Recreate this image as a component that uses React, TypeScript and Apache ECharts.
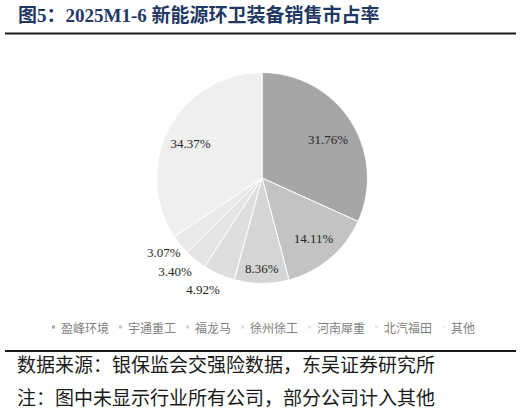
import React, { useEffect, useRef } from "react";
import * as echarts from "echarts";

const names = ["盈峰环境", "宇通重工", "福龙马", "徐州徐工", "河南犀重", "北汽福田", "其他"];
const values = [31.76, 14.11, 8.36, 4.92, 3.4, 3.07, 34.37];
const colors = ["#a6a6a6", "#c3c3c3", "#d5d5d5", "#dedede", "#e4e4e4", "#e9e9e9", "#efefef"];
const innerLabelIdx = [0, 1, 2, 6];
const outerLabelIdx = [3, 4, 5];

const titleText = "图5：2025M1-6 新能源环卫装备销售市占率";
const sourceText = "数据来源：银保监会交强险数据，东吴证券研究所";
const noteText = "注：图中未显示行业所有公司，部分公司计入其他";

const CX = 262;
const CY = 178;
const R = 105.5;

const labelFont = "Liberation Serif, Times New Roman, serif";
const cjkSerif = "Liberation Serif, Noto Sans CJK SC, sans-serif";

const labelOffsets: Record<number, number[]> = {
  0: [-1, 5],
  2: [0, 11],
  3: [-7, -4],
  4: [-7, -5],
  5: [0, -6],
  6: [-1, 3],
};

export default function App() {
  const ref = useRef<HTMLDivElement>(null);
  useEffect(() => {
    if (!ref.current) return;
    const chart = echarts.init(ref.current, null, { renderer: "svg" });
    const fmt = (p: any) => Number(p.value).toFixed(2) + "%";
    const baseData = names.map((n, i) => ({
      name: n,
      value: values[i],
      itemStyle: { color: colors[i] },
    }));
    const overlayData = (idx: number[]) =>
      names.map((n, i) => ({
        name: n,
        value: values[i],
        itemStyle: { color: "transparent", borderWidth: 0 },
        label: { show: idx.includes(i), ...(labelOffsets[i] ? { offset: labelOffsets[i] } : {}) },
      }));
    const labelStyle = {
      position: "inside",
      formatter: fmt,
      color: "#262626",
      fontSize: 13,
      fontFamily: labelFont,
    };
    chart.setOption({
      animation: false,
      legend: {
        top: 316,
        left: "center",
        icon: "rect",
        itemWidth: 5,
        itemHeight: 5,
        itemGap: 8,
        selectedMode: false,
        data: names,
        textStyle: { color: "#7f7f7f", fontSize: 12, fontFamily: "Noto Sans CJK SC" },
      },
      series: [
        {
          type: "pie",
          center: [CX, CY],
          radius: [0, R],
          startAngle: 90,
          clockwise: true,
          silent: true,
          label: { show: false },
          labelLine: { show: false },
          itemStyle: { borderColor: "#ffffff", borderWidth: 1 },
          data: baseData,
        },
        {
          type: "pie",
          center: [CX, CY],
          radius: [48, R],
          startAngle: 90,
          clockwise: true,
          silent: true,
          avoidLabelOverlap: false,
          labelLine: { show: false },
          label: labelStyle,
          data: overlayData(innerLabelIdx),
        },
        {
          type: "pie",
          center: [CX, CY],
          radius: [R - 3, R + 40],
          startAngle: 90,
          clockwise: true,
          silent: true,
          avoidLabelOverlap: false,
          labelLine: { show: false },
          label: labelStyle,
          data: overlayData(outerLabelIdx),
        },
      ],
      graphic: [
        {
          type: "text",
          x: 18,
          y: 15,
          style: {
            text: titleText,
            fill: "#1f3864",
            font: "bold 19px " + cjkSerif,
            align: "left",
            verticalAlign: "middle",
            textAlign: "left",
            textVerticalAlign: "middle",
          },
        },
        {
          type: "line",
          shape: { x1: 5, y1: 33.5, x2: 516, y2: 33.5 },
          style: { stroke: "#1a1a1a", lineWidth: 2 },
        },
        {
          type: "line",
          shape: { x1: 5, y1: 351, x2: 516, y2: 351 },
          style: { stroke: "#1a1a1a", lineWidth: 2 },
        },
        {
          type: "text",
          x: 17,
          y: 365,
          style: {
            text: sourceText,
            fill: "#1a1a1a",
            font: "19px " + cjkSerif,
            align: "left",
            verticalAlign: "middle",
            textAlign: "left",
            textVerticalAlign: "middle",
          },
        },
        {
          type: "text",
          x: 17,
          y: 398,
          style: {
            text: noteText,
            fill: "#1a1a1a",
            font: "19px " + cjkSerif,
            align: "left",
            verticalAlign: "middle",
            textAlign: "left",
            textVerticalAlign: "middle",
          },
        },
      ],
    });
    return () => chart.dispose();
  }, []);
  return (
    <div
      ref={ref}
      style={{ position: "absolute", left: 0, top: 0, width: 525, height: 414, background: "#ffffff" }}
    />
  );
}
